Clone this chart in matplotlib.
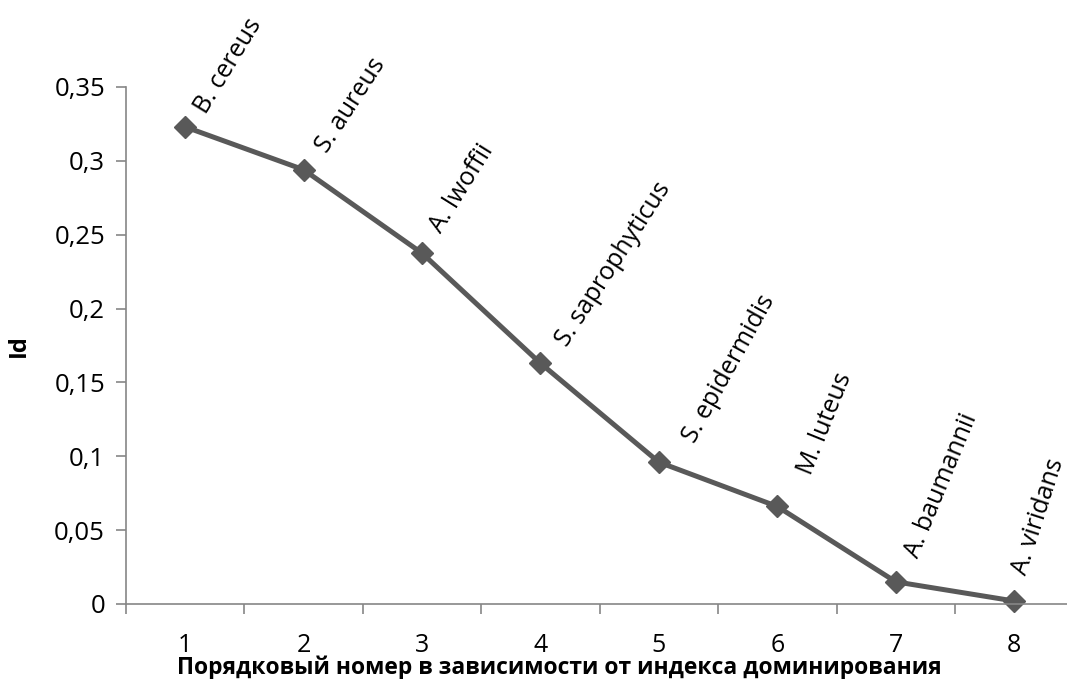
import matplotlib.pyplot as plt
from matplotlib.ticker import FuncFormatter, FixedLocator

plt.rcParams['font.family'] = ['Open Sans', 'DejaVu Sans']

ranks = [1, 2, 3, 4, 5, 6, 7, 8]
id_values = [0.323, 0.294, 0.2375, 0.163, 0.096, 0.066, 0.015, 0.002]
species = ['B. cereus', 'S. aureus', 'A. lwoffii', 'S. saprophyticus',
           'S. epidermidis', 'M. luteus', 'A. baumannii', 'A. viridans']

# label placement (hand-dragged in the original), offsets in points
label_angles = [58.5, 57, 58, 57, 61, 68, 67.5, 72]
label_offsets = [(10.8, 11), (13, 14), (10, 16.5), (15, 13.7),
                 (22, 15), (20, 24), (12, 18), (4, 19.4)]

fig = plt.figure(figsize=(10.67, 6.79), dpi=100)
ax = fig.add_axes([0.118, 0.1105, 0.888, 0.7614])

ax.plot(ranks, id_values, color='#595959', lw=3.6, marker='D', ms=11,
        markeredgecolor='#595959', markerfacecolor='#595959', clip_on=False)

for x, y, name, ang, off in zip(ranks, id_values, species, label_angles, label_offsets):
    ax.annotate(name, (x, y), xytext=off, textcoords='offset points',
                rotation=ang, rotation_mode='anchor', ha='left', va='center',
                fontsize=18)

ax.set_xlim(0.5, 8.5)
ax.set_ylim(0, 0.35)
ax.set_yticks([0, 0.05, 0.1, 0.15, 0.2, 0.25, 0.3, 0.35])
ax.yaxis.set_major_formatter(FuncFormatter(lambda v, p: ('%g' % round(v, 2)).replace('.', ',')))
ax.set_xticks(ranks)
ax.xaxis.set_minor_locator(FixedLocator([k + 0.5 for k in range(0, 9)]))
ax.tick_params(axis='x', which='major', length=0, pad=21, labelsize=18)
ax.tick_params(axis='x', which='minor', length=7, color='#868686', width=1.2)
ax.tick_params(axis='y', length=7, color='#868686', width=1.2, labelsize=18.5, pad=8)

for s in ['top', 'right']:
    ax.spines[s].set_visible(False)
for s in ['left', 'bottom']:
    ax.spines[s].set_color('#868686')
    ax.spines[s].set_linewidth(1.2)

ax.set_ylabel('Id', fontsize=17, fontweight='bold')
ax.yaxis.set_label_coords(-0.1, 0.5)
ax.set_xlabel('Порядковый номер в зависимости от индекса доминирования',
              fontsize=16.5, fontweight='bold')
ax.xaxis.set_label_coords(0.457, -0.1)

fig.savefig('out.png', dpi=100)
